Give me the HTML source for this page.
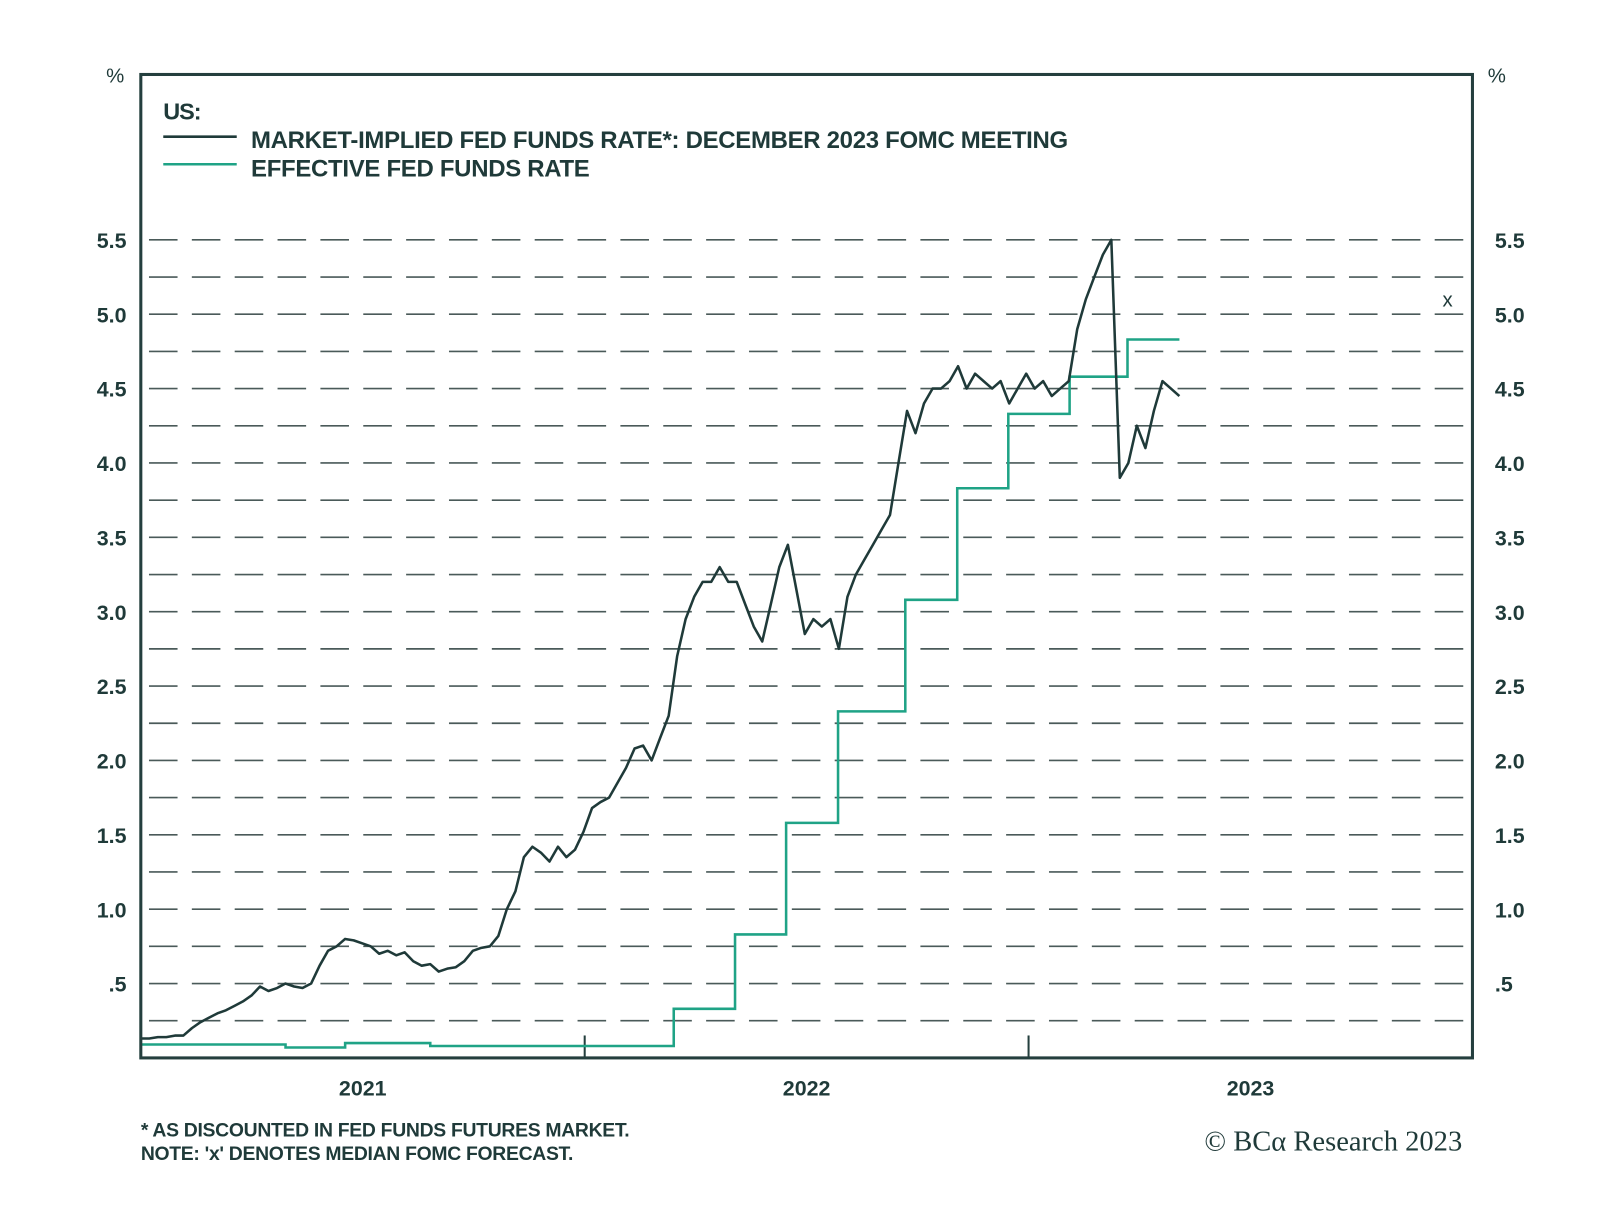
<!DOCTYPE html>
<html><head><meta charset="utf-8">
<style>
body{margin:0;background:#fff;}
svg text{font-family:"Liberation Sans",sans-serif;fill:#1f3a39;}
</style></head>
<body>
<svg width="1600" height="1214" viewBox="0 0 1568 1190" preserveAspectRatio="none" xmlns="http://www.w3.org/2000/svg">
<g id="grid"></g>
<g id="labels"></g>
<g id="series"></g>
<rect x="138" y="73" width="1305" height="964" fill="none" stroke="#243f3e" stroke-width="3"/>
<text x="104" y="81" font-size="20">%</text>
<text x="1458" y="81" font-size="20">%</text>
<text x="160" y="117" font-size="23" font-weight="bold" letter-spacing="-1">US:</text>
<line x1="160" y1="134" x2="232" y2="134" stroke="#1f3a39" stroke-width="2.5"/>
<text x="246" y="145" font-size="23.5" font-weight="bold" letter-spacing="-0.3">MARKET-IMPLIED FED FUNDS RATE*: DECEMBER 2023 FOMC MEETING</text>
<line x1="160" y1="161" x2="232" y2="161" stroke="#1fa386" stroke-width="2.5"/>
<text x="246" y="173" font-size="23.5" font-weight="bold" letter-spacing="-0.3">EFFECTIVE FED FUNDS RATE</text>
<text x="138" y="1114" font-size="19" font-weight="bold" letter-spacing="-0.3">* AS DISCOUNTED IN FED FUNDS FUTURES MARKET.</text>
<text x="138" y="1137" font-size="19" font-weight="bold" letter-spacing="-0.3">NOTE: 'x' DENOTES MEDIAN FOMC FORECAST.</text>
<text x="1433" y="1128" font-size="28" text-anchor="end" style="font-family:'Liberation Serif',serif">© BCα Research 2023</text>
</svg>
<script>
const yTicks=[0.5,1.0,1.5,2.0,2.5,3.0,3.5,4.0,4.5,5.0,5.5];
const yTickLabels=[".5","1.0","1.5","2.0","2.5","3.0","3.5","4.0","4.5","5.0","5.5"];
const years=["2021","2022","2023"];
// weeks since 2021-01-01
const marketWeeks=[];for(let i=0;i<=122;i++)marketWeeks.push(i);
const marketValues=[0.13,0.13,0.14,0.14,0.15,0.15,0.2,0.24,0.27,0.3,0.32,0.35,0.38,0.42,0.48,0.45,0.47,0.5,0.48,0.47,0.5,0.62,0.72,0.75,0.8,0.79,0.77,0.75,0.7,0.72,0.69,0.71,0.65,0.62,0.63,0.58,0.6,0.61,0.65,0.72,0.74,0.75,0.82,1.0,1.12,1.35,1.42,1.38,1.32,1.42,1.35,1.4,1.52,1.68,1.72,1.75,1.85,1.95,2.08,2.1,2.0,2.15,2.3,2.7,2.95,3.1,3.2,3.2,3.3,3.2,3.2,3.05,2.9,2.8,3.05,3.3,3.45,3.15,2.85,2.95,2.9,2.95,2.75,3.1,3.25,3.35,3.45,3.55,3.65,4.0,4.35,4.2,4.4,4.5,4.5,4.55,4.65,4.5,4.6,4.55,4.5,4.55,4.4,4.5,4.6,4.5,4.55,4.45,4.5,4.55,4.9,5.1,5.25,5.4,5.5,3.9,4.0,4.25,4.1,4.35,4.55,4.5,4.45];
const effWeeks=[0,17,24,34,62.6,69.8,75.8,81.9,89.8,95.9,101.9,109.1,115.9,122];
const effValues=[0.09,0.07,0.1,0.08,0.33,0.83,1.58,2.33,3.08,3.83,4.33,4.58,4.83,4.83];
const forecastWeek=[153.5];const forecastValue=[5.1];

const NS="http://www.w3.org/2000/svg";
const X0=138,X1=1443,Y0=1037,Y1=73,YMAX=(1037-73)/145.8;
const xw=w=>X0+w*(435/52.14);
const yv=v=>Y0-(v/YMAX)*(Y0-Y1);
function mk(tag,attrs,parent){const e=document.createElementNS(NS,tag);for(const k in attrs)e.setAttribute(k,attrs[k]);parent.appendChild(e);return e;}
const grid=document.getElementById('grid'),labels=document.getElementById('labels'),series=document.getElementById('series');
for(let v=0.25;v<=5.51;v+=0.25){
 const l=mk('line',{x1:X0,x2:X1,y1:yv(v),y2:yv(v),stroke:'#4a5a59','stroke-width':1.6,'stroke-dasharray':'28 14','stroke-dashoffset':'-8'},grid);
 
 
}
yTicks.forEach((v,i)=>{
 const a=mk('text',{x:124,y:yv(v)+8,'font-size':21,'text-anchor':'end','font-weight':'bold'},labels);a.textContent=yTickLabels[i];
 
 
 const b=mk('text',{x:1465,y:yv(v)+8,'font-size':21,'font-weight':'bold'},labels);b.textContent=yTickLabels[i];
 
 
});
years.forEach((y,i)=>{
 const cx=X0+435*i+217.5;
 const t=mk('text',{x:cx,y:1074,'font-size':21,'text-anchor':'middle','font-weight':'bold'},labels);t.textContent=y;
 
 
 if(i>0){const tk=mk('line',{x1:X0+435*i,x2:X0+435*i,y1:Y0,y2:Y0-22,stroke:'#243f3e','stroke-width':2},labels);
 
 }
});
let d='';effWeeks.forEach((w,i)=>{if(i===0)d+='M'+xw(w)+','+yv(effValues[i]);else{d+='H'+xw(w)+'V'+yv(effValues[i]);}});
const ep=mk('path',{d:d,fill:'none',stroke:'#1fa386','stroke-width':2.5},series);


const mp=mk('path',{d:marketWeeks.map((w,i)=>(i?'L':'M')+xw(w).toFixed(1)+','+yv(marketValues[i]).toFixed(1)).join(''),fill:'none',stroke:'#1f3a39','stroke-width':2.5,'stroke-linejoin':'round'},series);


const fx=mk('text',{x:xw(forecastWeek[0]),y:yv(forecastValue[0])+7,'font-size':20,'text-anchor':'middle'},series);fx.textContent='x';


</script>
</body></html>
